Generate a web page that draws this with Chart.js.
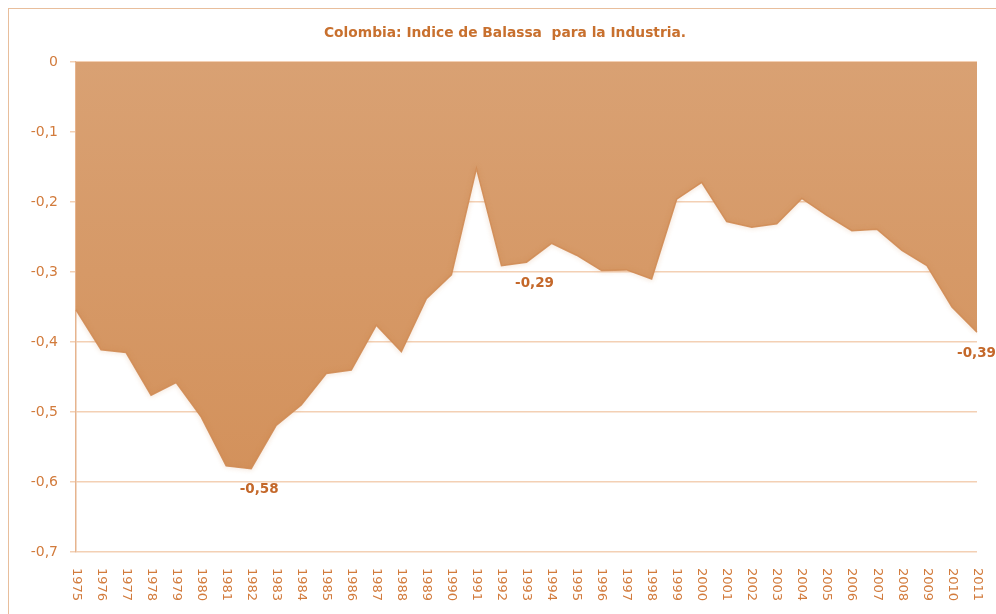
<!DOCTYPE html>
<html>
<head>
<meta charset="utf-8">
<script src="https://cdn.jsdelivr.net/npm/chart.js@4/dist/chart.umd.min.js"></script>
<style>
    html, body { margin: 0; padding: 0; background: #fff; overflow: hidden; width: 996px; height: 614px; }
    #marco { position: absolute; left: 8px; top: 8px; width: 1100px; height: 700px;
        border-left: 1.5px solid #E8BE9C; border-top: 1.5px solid #E8BE9C; }
    #caja { position: absolute; left: 0; top: 0; width: 996px; height: 614px; }
</style>
</head>
<body>
<div id="marco"></div>
<div id="caja"><canvas id="grafico"></canvas></div>
<script>
// Datos
const anios = ['1975','1976','1977','1978','1979','1980','1981','1982','1983','1984',
    '1985','1986','1987','1988','1989','1990','1991','1992','1993','1994',
    '1995','1996','1997','1998','1999','2000','2001','2002','2003','2004',
    '2005','2006','2007','2008','2009','2010','2011'];
const indiceBalassa = [-0.354, -0.411, -0.415, -0.476, -0.458, -0.507, -0.577, -0.581, -0.519, -0.490,
    -0.445, -0.440, -0.376, -0.414, -0.338, -0.304, -0.152, -0.291, -0.286, -0.259,
    -0.276, -0.298, -0.297, -0.310, -0.196, -0.172, -0.228, -0.236, -0.231, -0.195,
    -0.219, -0.241, -0.239, -0.269, -0.291, -0.350, -0.386];
const puntosEtiquetados = [7, 18, 36]; // 1982, 1993, 2011
const titulo = 'Colombia: Indice de Balassa  para la Industria.';

const colorTexto = '#D27B3C';
const colorEtiqueta = '#C4682A';

function formatoComa(v, dec) {
    if (Math.abs(v) < 1e-9) return '0';
    return v.toFixed(dec).replace('.', ',');
}

// Plugin para título, etiquetas del eje x giradas y etiquetas de datos
const decoracion = {
    id: 'decoracion',
    beforeDatasetDraw(chart) {
        const ctx = chart.ctx;
        ctx.save();
        ctx.shadowColor = 'rgba(205,130,70,0.55)';
        ctx.shadowBlur = 5;
    },
    afterDatasetDraw(chart) {
        chart.ctx.restore();
    },
    afterDraw(chart) {
        const ctx = chart.ctx;
        const x = chart.scales.x;
        const y = chart.scales.y;

        // título
        ctx.save();
        ctx.font = 'bold 13.8px "DejaVu Sans"';
        ctx.fillStyle = '#C8702E';
        ctx.textAlign = 'center';
        ctx.textBaseline = 'middle';
        ctx.fillText(titulo, 505, 33);
        ctx.restore();

        // años girados (de arriba hacia abajo)
        ctx.save();
        ctx.font = '13px "DejaVu Sans"';
        ctx.fillStyle = colorTexto;
        ctx.textAlign = 'left';
        ctx.textBaseline = 'middle';
        anios.forEach((a, i) => {
            const px = x.getPixelForValue(i);
            ctx.save();
            ctx.translate(px, y.bottom + 16);
            ctx.rotate(Math.PI / 2);
            ctx.fillText(a, 0, 0);
            ctx.restore();
        });
        ctx.restore();

        // etiquetas de datos
        ctx.save();
        ctx.font = 'bold 13.5px "DejaVu Sans"';
        ctx.fillStyle = colorEtiqueta;
        ctx.textAlign = 'center';
        ctx.textBaseline = 'middle';
        puntosEtiquetados.forEach(i => {
            const texto = formatoComa(indiceBalassa[i], 2);
            const w = ctx.measureText(texto).width;
            let px = x.getPixelForValue(i) + 8;
            px = Math.min(px, chart.width - w / 2);
            const py = y.getPixelForValue(indiceBalassa[i]);
            ctx.fillText(texto, px, py + 21);
        });
        ctx.restore();
    }
};

const ctx = document.getElementById('grafico').getContext('2d');

new Chart(ctx, {
    type: 'line',
    data: {
        labels: anios,
        datasets: [{
            data: indiceBalassa,
            fill: 'origin',
            tension: 0,
            pointRadius: 0,
            borderWidth: 1.5,
            borderColor: 'rgba(208,140,85,0.9)',
            backgroundColor: (c) => {
                const area = c.chart.chartArea;
                if (!area) return '#D79B6A';
                const g = c.chart.ctx.createLinearGradient(0, area.top, 0, area.top + 420);
                g.addColorStop(0, '#D9A173');
                g.addColorStop(1, '#D3915B');
                return g;
            }
        }]
    },
    options: {
        responsive: true,
        maintainAspectRatio: false,
        animation: false,
        layout: { padding: { top: 62, right: 19, left: 0, bottom: 0 } },
        plugins: {
            legend: { display: false },
            tooltip: { enabled: false },
            title: { display: false }
        },
        scales: {
            x: {
                type: 'category',
                offset: false,
                grid: { display: false },
                border: { display: false },
                ticks: { display: false },
                afterFit: s => { s.height = 62; }
            },
            y: {
                min: -0.7,
                max: 0,
                ticks: {
                    stepSize: 0.1,
                    color: colorTexto,
                    font: { family: 'DejaVu Sans', size: 14 },
                    padding: 12,
                    callback: v => formatoComa(v, 1)
                },
                grid: {
                    color: '#F3D0B4',
                    lineWidth: 1.5,
                    tickLength: 6
                },
                border: { color: '#E6B48E', width: 1.5 },
                afterFit: s => { s.width = 76; }
            }
        }
    },
    plugins: [decoracion]
});
</script>
</body>
</html>
